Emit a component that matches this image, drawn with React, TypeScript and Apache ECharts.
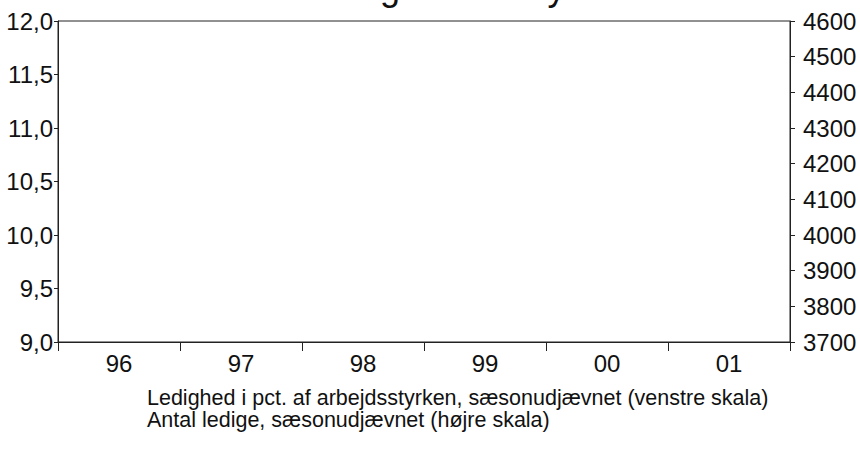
import React, { useEffect, useRef } from "react";
import * as echarts from "echarts";

// Categories (years) on the x axis
const years: string[] = ["96", "97", "98", "99", "00", "01"];

// Left axis (pct.) tick values and labels
const leftMin = 9.0;
const leftMax = 12.0;
const leftStep = 0.5;
const leftTickLabels: string[] = ["9,0", "9,5", "10,0", "10,5", "11,0", "11,5", "12,0"];

// Right axis (antal ledige, 1000 personer) tick values
const rightMin = 3700;
const rightMax = 4600;
const rightStep = 100;
const rightTickLabels: string[] = ["3700", "3800", "3900", "4000", "4100", "4200", "4300", "4400", "4500", "4600"];

// Series names (the lines themselves are not visible in the reference)
const seriesNames: string[] = [
  "Ledighed i pct. af arbejdsstyrken, sæsonudjævnet (venstre skala)",
  "Antal ledige, sæsonudjævnet (højre skala)",
];
const pctValues: number[] = [];
const ledigeValues: number[] = [];

const titleText = "Ledigheden i Tyskland";

export default function App() {
  const ref = useRef<HTMLDivElement>(null);
  useEffect(() => {
    if (!ref.current) return;
    const chart = echarts.init(ref.current, undefined, { renderer: "svg" });
    const font = "'Liberation Sans', Arial, sans-serif";
    chart.setOption({
      animation: false,
      backgroundColor: "#ffffff",
      textStyle: { fontFamily: font },
      graphic: [
        {
          type: "text",
          x: 312,
          y: -13,
          style: {
            text: titleText,
            fontSize: 36,
            fontFamily: font,
            fill: "#111",
            verticalAlign: "middle",
          },
        },
      ],
      legend: {
        data: seriesNames,
        orient: "vertical",
        left: 142,
        top: 387,
        padding: 0,
        itemWidth: 0,
        itemHeight: 0,
        itemGap: 0,
        icon: "rect",
        selectedMode: false,
        textStyle: { fontSize: 21.5, lineHeight: 22, color: "#111", fontFamily: font },
      },
      grid: {
        left: 58,
        right: 70,
        top: 21,
        bottom: 116,
        show: true,
        borderColor: "#222",
        borderWidth: 1,
        backgroundColor: "transparent",
      },
      xAxis: {
        type: "category",
        data: years,
        boundaryGap: true,
        axisLine: { lineStyle: { color: "#222", width: 1 } },
        axisTick: { show: true, inside: false, length: 9, lineStyle: { color: "#222" } },
        axisLabel: { fontSize: 24, color: "#111", margin: 9, fontFamily: font },
        splitLine: { show: false },
      },
      yAxis: [
        {
          type: "value",
          position: "left",
          min: leftMin,
          max: leftMax,
          interval: leftStep,
          axisLine: { show: true, lineStyle: { color: "#222", width: 1 } },
          axisTick: { show: true, length: 4, lineStyle: { color: "#222" } },
          axisLabel: {
            fontSize: 24,
            color: "#111",
            margin: 5,
            fontFamily: font,
            formatter: (v: number) => leftTickLabels[Math.round((v - leftMin) / leftStep)] ?? "",
          },
          splitLine: { show: false },
        },
        {
          type: "value",
          position: "right",
          min: rightMin,
          max: rightMax,
          interval: rightStep,
          axisLine: { show: true, lineStyle: { color: "#222", width: 1 } },
          axisTick: { show: true, length: 5, lineStyle: { color: "#222" } },
          axisLabel: {
            fontSize: 24,
            color: "#111",
            margin: 13,
            fontFamily: font,
            formatter: (v: number) => rightTickLabels[Math.round((v - rightMin) / rightStep)] ?? "",
          },
          splitLine: { show: false },
        },
      ],
      series: [
        {
          name: seriesNames[0],
          type: "line",
          yAxisIndex: 0,
          data: pctValues,
          showSymbol: false,
          lineStyle: { color: "#111", width: 1.5 },
          itemStyle: { color: "#111" },
        },
        {
          name: seriesNames[1],
          type: "line",
          yAxisIndex: 1,
          data: ledigeValues,
          showSymbol: false,
          lineStyle: { color: "#111", width: 1.5, type: "dashed" },
          itemStyle: { color: "#111" },
        },
      ],
    });
    return () => chart.dispose();
  }, []);
  return (
    <div
      ref={ref}
      style={{ position: "fixed", left: 0, top: 0, width: 860, height: 458, background: "#fff" }}
    />
  );
}
